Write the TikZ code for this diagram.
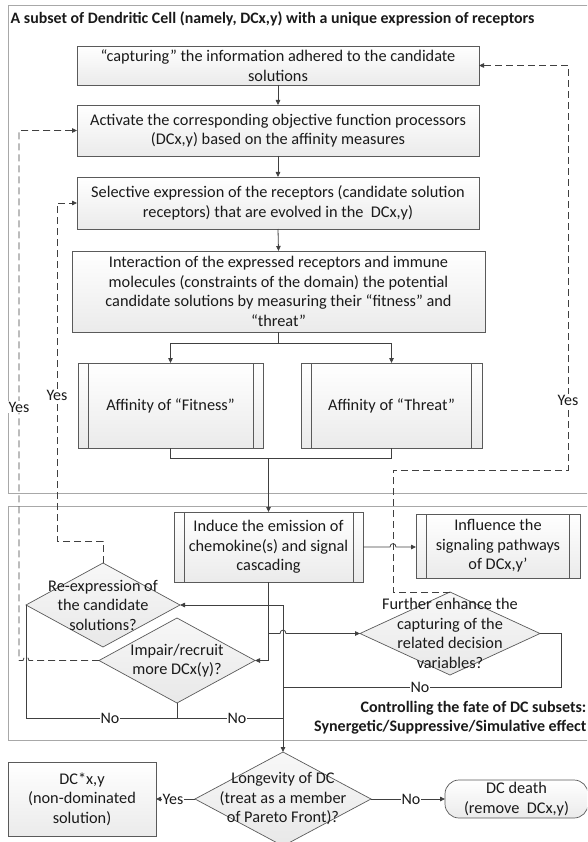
\documentclass[tikz,border=0pt]{standalone}
\usepackage{fontspec}
\setmainfont{Carlito}
\usetikzlibrary{arrows.meta,shapes.geometric,calc}
\definecolor{ln}{HTML}{404040}
\definecolor{frm}{HTML}{A8A8A8}
\definecolor{bd}{HTML}{5A5A5A}
\definecolor{txt}{HTML}{1A1A1A}
\begin{document}
\begin{tikzpicture}[x=1pt,y=-1pt,
  font=\fontsize{16.3}{19.5}\selectfont,
  every node/.append style={text=txt},
  box/.style={draw=bd, line width=0.7pt, top color=white, bottom color=gray!16, inner sep=0pt, outer sep=0pt, align=center},
  dia/.style={diamond, draw=bd, line width=0.7pt, top color=gray!6, bottom color=gray!18, inner sep=0pt, outer sep=0pt},
  conn/.style={draw=ln, line width=0.8pt},
  tip/.style={-{Triangle[length=5pt,width=4.5pt]}},
  arr/.style={conn, tip},
  dsh/.style={conn, dash pattern=on 7pt off 4pt},
  lab/.style={fill=white, inner sep=0.6pt, font=\fontsize{16}{17}\selectfont},
  frame/.style={draw=frm, line width=0.7pt},
  inl/.style={draw=bd, line width=0.6pt}]
\useasboundingbox (0,0) rectangle (587,842);
\clip (0,0) rectangle (587,842);

% frames
\draw[frame] (8,5.5) rectangle (620,493);
\draw[frame] (8,506) rectangle (620,740);

\node[anchor=base west, inner sep=0pt, font=\bfseries\fontsize{15.9}{19}\selectfont] (title) at (10.5,24) {A subset of Dendritic Cell (namely, DCx,y) with a unique expression of receptors};

% process boxes
\node[box, minimum width=402pt, minimum height=39pt] (b1) at (278,65.5) {“capturing” the information adhered to the candidate\\solutions};
\node[box, minimum width=402pt, minimum height=51pt] (b2) at (278,130.5) {Activate the corresponding objective function processors\\(DCx,y) based on the affinity measures};
\node[box, minimum width=402pt, minimum height=52pt] (b3) at (278,203) {Selective expression of the receptors (candidate solution\\receptors) that are evolved in the \ DCx,y)};
\node[box, minimum width=413pt, minimum height=81pt] (b4) at (278.5,291.5) {Interaction of the expressed receptors and immune\\molecules (constraints of the domain) the potential\\candidate solutions by measuring their “fitness” and\\“threat”};

\node[box, minimum width=185pt, minimum height=85pt] (fit) at (170.5,405.5) {Affinity of “Fitness”};
\draw[inl] ([xshift=10pt]fit.north west) -- ([xshift=10pt]fit.south west);
\draw[inl] ([xshift=-10pt]fit.north east) -- ([xshift=-10pt]fit.south east);
\node[box, minimum width=181pt, minimum height=85pt] (thr) at (391.5,405.5) {Affinity of “Threat”};
\draw[inl] ([xshift=10.5pt]thr.north west) -- ([xshift=10.5pt]thr.south west);
\draw[inl] ([xshift=-10.5pt]thr.north east) -- ([xshift=-10.5pt]thr.south east);

\node[box, minimum width=189pt, minimum height=70pt] (ind) at (268.5,547) {Induce the emission of\\chemokine(s) and signal\\cascading};
\draw[inl] ([xshift=10pt]ind.north west) -- ([xshift=10pt]ind.south west);
\draw[inl] ([xshift=-10pt]ind.north east) -- ([xshift=-10pt]ind.south east);
\node[box, minimum width=164pt, minimum height=64pt] (inf) at (498,546) {Influence the\\signaling pathways\\of DCx,y’};
\draw[inl] ([xshift=10.5pt]inf.north west) -- ([xshift=10.5pt]inf.south west);
\draw[inl] ([xshift=-10.5pt]inf.north east) -- ([xshift=-10.5pt]inf.south east);

% decisions
\node[dia, minimum width=154pt, minimum height=84pt] (d1) at (103,605) {};
\node[align=center, inner sep=0pt] (d1t) at (d1.center) {Re-expression of\\the candidate\\solutions?};
\node[dia, minimum width=156pt, minimum height=85pt] (d2) at (177,660.5) {};
\node[align=center, inner sep=0pt] (d2t) at (d2.center) {Impair/recruit\\more DCx(y)?};
\node[dia, minimum width=180pt, minimum height=83pt] (d3) at (450,633.5) {};
\node[align=center, inner sep=0pt] (d3t) at (d3.center) {Further enhance the\\capturing of the\\related decision\\variables?};
\node[dia, minimum width=176pt, minimum height=94pt] (d4) at (283,799) {};
\node[align=center, inner sep=0pt] (d4t) at (d4.center) {Longevity of DC\\(treat as a member\\of Pareto Front)?};

\node[box, minimum width=148pt, minimum height=74pt] (dcb) at (82,799) {DC*x,y\\(non-dominated\\solution)};
\node[box, rounded corners=14pt, minimum width=143pt, minimum height=38pt] (death) at (516.5,799) {DC death\\(remove \ DCx,y)};

\node[anchor=east, align=right, inner sep=0pt, font=\bfseries\fontsize{16}{19}\selectfont] (ctl) at (586.5,717.5) {Controlling the fate of DC subsets:\\Synergetic/Suppressive/Simulative effect};

% main flow
\draw[arr] (b1.south) -- (b2.north);
\draw[arr] (b2.south) -- (b3.north);
\draw[arr] (b3.south) -- (b4.north);
\path (b4.south) ++(0,11) coordinate (sp);
\draw[conn] (b4.south) -- (sp);
\draw[arr] (sp) -| (fit.north);
\draw[arr] (sp) -| (thr.north);
\path (fit.south) ++(0,10) coordinate (mL);
\path (thr.south) ++(0,10) coordinate (mR);
\coordinate (mg) at (ind.north |- mL);
\draw[conn] (fit.south) -- (mL) -- (mR) -- (thr.south);
\draw[arr] (mg) -- (ind.north);

\draw[arr] (ind.east) -- (390,547) .. controls (390,542.5) and (396,542.5) .. (396,547) -- (inf.west |- ind.east);

\coordinate (t1) at (ind.south |- d1.east);
\coordinate (t2) at (ind.south |- d3.west);
\draw[arr] (ind.south) |- (d2.east);
\draw[arr] (t1) -- (d1.east);
\draw[arr] (t1) -| (d4.north);
\draw[arr] (t2) -- (280,633.5) .. controls (280,629) and (286,629) .. (286,633.5) -- (d3.west);

% No branches
\coordinate (n2) at (283,718);
\draw[conn] (d1.west) |- (n2);
\draw[conn] (d2.south) -- (d2.south |- n2);
\node[lab] (no1) at (110,718) {No};
\node[lab] (no2) at (237,718) {No};
\coordinate (n3) at (561,687);
\coordinate (n4) at (283,687);
\draw[conn] (d3.east) -| (n3) -- (n4);
\node[lab] (no3) at (420,687) {No};

\draw[arr] (d4.west) -- (dcb.east);
\node[lab] (yes4) at (173,799) {Yes};
\draw[arr] (d4.east) -- (death.west);
\node[lab] (no4) at (411,799) {No};

% Yes feedback (dashed)
\coordinate (ya) at (19,660.5);
\draw[dsh, tip] (d2.west) -- (29,660.5) .. controls (29,656) and (23,656) .. (23,660.5) -- (ya) |- (b2.west);
\node[lab] (yes1) at (19,407) {Yes};
\coordinate (yb) at (57,541);
\draw[dsh, tip] (d1.north) |- (yb) |- (b3.west);
\node[lab] (yes2) at (57,395) {Yes};
\coordinate (r1) at (393,470);
\coordinate (r2) at (568,470);
\draw[dsh, tip] (d3.north) -| (r1) -- (r2) |- (b1.east);
\node[lab] (yes3) at (568,400) {Yes};
\end{tikzpicture}
\end{document}
